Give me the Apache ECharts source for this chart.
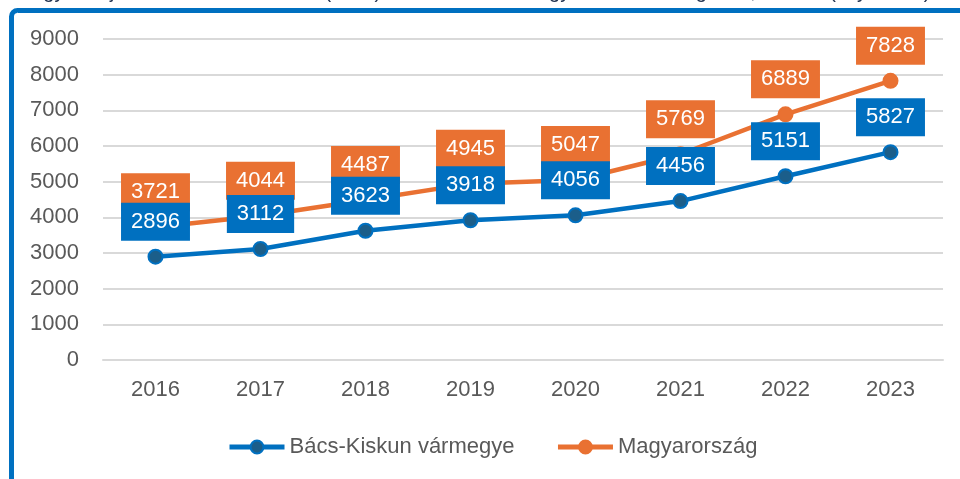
<!DOCTYPE html>
<html>
<head>
<meta charset="utf-8">
<script src="https://cdn.jsdelivr.net/npm/echarts@6/dist/echarts.min.js"></script>
<style>
  html, body { margin: 0; padding: 0; background: #fff; }
  #chart { width: 960px; height: 479px; }
</style>
</head>
<body>
<div id="chart"></div>
<script>
// adatok
var years = ["2016", "2017", "2018", "2019", "2020", "2021", "2022", "2023"];
var bacsKiskun = [2896, 3112, 3623, 3918, 4056, 4456, 5151, 5827];
var magyarorszag = [3721, 4044, 4487, 4945, 5047, 5769, 6889, 7828];
var seriesNames = ["Bács-Kiskun vármegye", "Magyarország"];

var blue = "#0070C0";
var orange = "#E97132";
var font = "Liberation Sans, Arial, sans-serif";

var chart = echarts.init(document.getElementById("chart"));

function labelStyle(bg) {
  return {
    show: true,
    position: "top",
    distance: 8,
    color: "#fff",
    fontSize: 22,
    fontFamily: font,
    lineHeight: 24,
    backgroundColor: bg,
    padding: [7, 10, 7, 10]
  };
}

chart.setOption({
  animation: false,
  graphic: [
    {
      // levágott cím a kép tetején
      type: "text",
      left: 30,
      top: -18,
      style: {
        text: "Egy főre jutó bruttó hazai termék (GDP) alakulása a vármegyében és országosan, ezer Ft (folyó áron)",
        fontSize: 20,
        fontFamily: font,
        fill: "#243552"
      }
    },
    {
      // keret
      type: "rect",
      shape: { x: 11.5, y: 10.5, width: 1000, height: 520, r: 6 },
      style: { fill: "none", stroke: blue, lineWidth: 5 }
    }
  ],
  grid: { left: 103, right: 17, top: 39, bottom: 119 },
  legend: {
    left: 222,
    top: 431,
    itemWidth: 55,
    itemHeight: 16,
    itemGap: 41,
    lineStyle: { width: 5 },
    textStyle: { fontSize: 22, fontFamily: font, color: "#595959" },
    data: seriesNames
  },
  xAxis: {
    type: "category",
    data: years,
    axisLine: { show: true, lineStyle: { color: "#D9D9D9", width: 2 } },
    axisTick: { show: false },
    axisLabel: { margin: 19, fontSize: 22, fontFamily: font, color: "#595959" }
  },
  yAxis: {
    type: "value",
    min: 0,
    max: 9000,
    interval: 1000,
    axisLine: { show: false },
    axisTick: { show: false },
    axisLabel: {
      margin: 24,
      fontSize: 22,
      fontFamily: font,
      color: "#595959",
      formatter: function (v) { return String(v); }
    },
    splitLine: { lineStyle: { color: "#D9D9D9", width: 2 } }
  },
  series: [
    {
      name: seriesNames[1],
      type: "line",
      data: magyarorszag,
      z: 2,
      symbol: "circle",
      symbolSize: 14,
      lineStyle: { color: orange, width: 4.5 },
      itemStyle: { color: orange, borderColor: orange, borderWidth: 2 },
      label: labelStyle(orange)
    },
    {
      name: seriesNames[0],
      type: "line",
      data: bacsKiskun,
      z: 3,
      symbol: "circle",
      symbolSize: 14,
      lineStyle: { color: blue, width: 4.5 },
      itemStyle: { color: "#1B5E8A", borderColor: blue, borderWidth: 2 },
      label: labelStyle(blue)
    }
  ]
});
</script>
</body>
</html>
